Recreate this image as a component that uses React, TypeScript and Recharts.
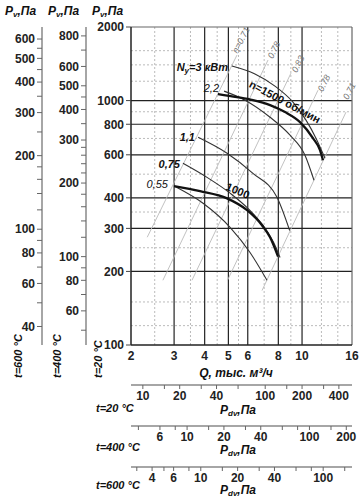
import {
  ComposedChart,
  Line,
  ReferenceDot,
  ReferenceLine,
  XAxis,
  YAxis,
} from "recharts";

const font = "Arial, 'Liberation Sans', sans-serif";

// Q, thousand m3/h
const flowTicks = [2, 3, 4, 5, 6, 8, 10, 16];
const flowGridMajor = [3, 4, 5, 6, 8, 10];
const flowGridMinor = [2.5, 3.5, 4.5, 5.5, 7, 9, 12, 14];

// Pv, Pa at 20 °C (main axis)
const pressureTicks = [100, 200, 300, 400, 600, 800, 1000, 2000];
const pressureGridMajor = [200, 300, 400, 600, 800, 1000];
const pressureGridMinor = [120, 150, 250, 350, 500, 700, 900, 1200, 1400, 1600];

// Pv at 400 °C and 600 °C
const p400Ticks = [50, 60, 70, 80, 90, 100, 120, 140, 160, 180, 200, 220, 240, 260, 280, 300, 350, 400, 450, 500, 600, 700, 800];
const p400Labels = [60, 80, 100, 200, 300, 400, 500, 600, 800];
const p600Ticks = [40, 50, 60, 70, 80, 90, 100, 120, 140, 160, 180, 200, 250, 300, 350, 400, 450, 500, 550, 600];
const p600Labels = [40, 60, 80, 100, 200, 300, 400, 500, 600];

// Pdv, Pa
const dyn20Ticks = [10, 15, 20, 30, 40, 60, 100, 150, 200, 300, 400];
const dyn20Labels = [10, 20, 40, 100, 200, 400];
const dyn400Ticks = [4, 6, 8, 10, 15, 20, 30, 40, 60, 80, 100, 150, 200];
const dyn400Labels = [6, 10, 20, 40, 100, 200];
const dyn600Ticks = [3, 4, 5, 6, 8, 10, 15, 20, 30, 40, 60, 80, 100, 150];
const dyn600Labels = [4, 6, 10, 20, 40, 100];

// curves, [Q, Pv]
const n1500 = [[4.53, 1063], [5.42, 1033], [6.3, 1004], [7.4, 958], [8.52, 897], [9.81, 816], [11.08, 702], [11.84, 627], [12.18, 570]];
const n1000 = [[3.0, 447], [3.83, 426], [4.94, 398], [5.96, 356], [6.86, 309], [7.4, 276], [7.98, 230]];
const power3 = [[5.17, 1384], [6.42, 1284], [7.75, 1146], [9.18, 986], [10.38, 832], [11.4, 702], [12.41, 581]];
const power22 = [[4.8, 1093], [5.85, 1004], [7.4, 855], [8.93, 722], [10.28, 598], [11.19, 472]];
const power11 = [[3.76, 708], [4.94, 609], [6.3, 504], [7.9, 402], [8.9, 294]];
const power075 = [[3.26, 554], [4.09, 485], [5.08, 418], [6.01, 362], [7.06, 300], [7.75, 256], [8.13, 228]];
const power055 = [[3.0, 447], [3.94, 380], [5.08, 303], [6.13, 239], [7.19, 184]];

// efficiency lines, ends only
const eta071a = [[2.33, 276], [5.42, 1535]];
const eta078a = [[2.7, 184], [7.26, 1465]];
const eta083 = [[3.55, 184], [9.01, 1295]];
const eta078b = [[4.96, 184], [11.62, 1103]];
const eta071b = [[6.86, 167], [15.12, 897]];

const toRows = (pts: number[][]) => pts.map(([q, p]) => ({ q, p }));

const thick = [n1500, n1000];
const thin = [power3, power22, power11, power075, power055];
const etaLines = [eta071a, eta078a, eta083, eta078b, eta071b];

const curveNotes = [
  { q: 4.98, p: 1371, text: "N", sub: "у", rest: "=3 кВт", bold: true, anchor: "end", rot: 0 },
  { q: 4.58, p: 1125, text: "2,2", bold: false, anchor: "end", rot: 0 },
  { q: 3.65, p: 708, text: "1,1", bold: true, anchor: "end", rot: 0 },
  { q: 3.17, p: 549, text: "0,75", bold: true, anchor: "end", rot: 0 },
  { q: 2.83, p: 455, text: "0,55", bold: false, anchor: "end", rot: 0 },
  { q: 8.52, p: 990, text: "n=1500 об/мин", bold: true, anchor: "middle", rot: 28, upright: true },
  { q: 5.47, p: 428, text: "1000", bold: true, anchor: "middle", rot: 23, upright: true },
];

const etaNotes = [
  { q: 5.63, p: 1769, text: "η=0.71" },
  { q: 7.68, p: 1610, text: "0.78" },
  { q: 9.63, p: 1411, text: "0.83" },
  { q: 12.29, p: 1179, text: "0.78" },
  { q: 15.6, p: 1093, text: "0.71" },
];

const tickStyle = { fill: "#222", fontSize: 12, fontWeight: 700, fontFamily: font };
const onlyIn = (list: number[]) => (v: number) => (list.includes(v) ? String(v) : "");

function NoteText({ viewBox, note }: any) {
  if (!viewBox) return null;
  const { x, y } = viewBox;
  return (
    <text
      x={x}
      y={y}
      dy={4}
      textAnchor={note.anchor}
      transform={note.rot ? `rotate(${note.rot} ${x} ${y})` : undefined}
      fontFamily={font}
      fontSize={11}
      fontWeight={note.bold ? 700 : 400}
      fontStyle={note.upright ? "normal" : "italic"}
      fill="#111"
    >
      {note.text}
      {note.sub && (
        <tspan fontSize={8} dy={2}>
          {note.sub}
        </tspan>
      )}
      {note.rest && <tspan dy={note.sub ? -2 : 0}>{note.rest}</tspan>}
    </text>
  );
}

function EtaText({ viewBox, text }: any) {
  if (!viewBox) return null;
  const { x, y } = viewBox;
  return (
    <text
      x={x}
      y={y}
      dy={3}
      textAnchor="middle"
      transform={`rotate(-63 ${x} ${y})`}
      fontFamily={font}
      fontSize={9}
      fontStyle="italic"
      fill="#777"
    >
      {text}
    </text>
  );
}

function DynAxis({ id, domain, ticks, labels, height }: any) {
  return (
    <XAxis
      xAxisId={id}
      type="number"
      scale="log"
      domain={domain}
      allowDataOverflow
      ticks={ticks}
      interval={0}
      height={height}
      tickSize={4}
      tickMargin={2}
      tickFormatter={onlyIn(labels)}
      axisLine={{ stroke: "#888", strokeWidth: 1.5 }}
      tickLine={{ stroke: "#666" }}
      tick={tickStyle}
    />
  );
}

export default function App() {
  return (
    <div style={{ position: "absolute", left: 0, top: 0, width: 364, height: 503, background: "#fff" }}>
      <ComposedChart width={364} height={503} margin={{ top: 27, right: 12, bottom: 118, left: 0 }}>
        <XAxis
          xAxisId="q"
          dataKey="q"
          type="number"
          scale="log"
          domain={[2, 16]}
          allowDataOverflow
          ticks={flowTicks}
          interval={0}
          height={40}
          tickLine={false}
          tickSize={0}
          tickMargin={6}
          axisLine={{ stroke: "#222", strokeWidth: 1.5 }}
          tick={tickStyle}
        />
        <YAxis
          yAxisId="p20"
          dataKey="p"
          type="number"
          scale="log"
          domain={[100, 2000]}
          allowDataOverflow
          ticks={pressureTicks}
          interval={0}
          width={45}
          tickSize={5}
          tickMargin={2}
          axisLine={{ stroke: "#222", strokeWidth: 1.5 }}
          tickLine={{ stroke: "#444" }}
          tick={tickStyle}
        />
        <YAxis
          yAxisId="p400"
          type="number"
          scale="log"
          domain={[43.5, 870]}
          allowDataOverflow
          ticks={p400Ticks}
          interval={0}
          width={44}
          tickSize={5}
          tickMargin={2}
          tickFormatter={onlyIn(p400Labels)}
          axisLine={{ stroke: "#888", strokeWidth: 1.5 }}
          tickLine={{ stroke: "#666" }}
          tick={tickStyle}
        />
        <YAxis
          yAxisId="p600"
          type="number"
          scale="log"
          domain={[33.6, 672]}
          allowDataOverflow
          ticks={p600Ticks}
          interval={0}
          width={42}
          tickSize={5}
          tickMargin={2}
          tickFormatter={onlyIn(p600Labels)}
          axisLine={{ stroke: "#888", strokeWidth: 1.5 }}
          tickLine={{ stroke: "#666" }}
          tick={tickStyle}
        />

        {flowGridMinor.map((q) => (
          <ReferenceLine key={"fm" + q} x={q} xAxisId="q" yAxisId="p20" stroke="#bbb" strokeDasharray="2 2" />
        ))}
        {pressureGridMinor.map((p) => (
          <ReferenceLine key={"pm" + p} y={p} xAxisId="q" yAxisId="p20" stroke="#bbb" strokeDasharray="2 2" />
        ))}
        {flowGridMajor.map((q) => (
          <ReferenceLine key={"fM" + q} x={q} xAxisId="q" yAxisId="p20" stroke="#222" strokeWidth={1.2} />
        ))}
        {pressureGridMajor.map((p) => (
          <ReferenceLine key={"pM" + p} y={p} xAxisId="q" yAxisId="p20" stroke="#222" strokeWidth={1.2} />
        ))}
        <ReferenceLine y={2000} xAxisId="q" yAxisId="p20" stroke="#666" strokeWidth={1.2} />
        <ReferenceLine x={16} xAxisId="q" yAxisId="p20" stroke="#666" strokeWidth={1.2} />

        {etaLines.map((pts, i) => (
          <Line
            key={"eta" + i}
            data={toRows(pts)}
            dataKey="p"
            xAxisId="q"
            yAxisId="p20"
            type="linear"
            stroke="#bbb"
            strokeWidth={0.9}
            dot={false}
            isAnimationActive={false}
          />
        ))}
        {thin.map((pts, i) => (
          <Line
            key={"n" + i}
            data={toRows(pts)}
            dataKey="p"
            xAxisId="q"
            yAxisId="p20"
            type="monotone"
            stroke="#333"
            strokeWidth={1.1}
            dot={false}
            isAnimationActive={false}
          />
        ))}
        {thick.map((pts, i) => (
          <Line
            key={"rpm" + i}
            data={toRows(pts)}
            dataKey="p"
            xAxisId="q"
            yAxisId="p20"
            type="monotone"
            stroke="#111"
            strokeWidth={2.3}
            dot={false}
            isAnimationActive={false}
          />
        ))}

        {etaNotes.map((n, i) => (
          <ReferenceDot
            key={"en" + i}
            x={n.q}
            y={n.p}
            r={0}
            xAxisId="q"
            yAxisId="p20"
            ifOverflow="visible"
            fill="none"
            stroke="none"
            label={(props: any) => <EtaText viewBox={props.viewBox} text={n.text} />}
          />
        ))}
        {curveNotes.map((n, i) => (
          <ReferenceDot
            key={"cn" + i}
            x={n.q}
            y={n.p}
            r={0}
            xAxisId="q"
            yAxisId="p20"
            ifOverflow="visible"
            fill="none"
            stroke="none"
            label={(props: any) => <NoteText viewBox={props.viewBox} note={n} />}
          />
        ))}
      </ComposedChart>

      {/* dynamic pressure scales under the plot */}
      <div style={{ position: "absolute", left: 0, top: 345 }}>
        <ComposedChart width={364} height={158} layout="vertical" margin={{ top: 0, right: 12, bottom: 0, left: 131 }}>
          <YAxis type="category" hide />
          {DynAxis({ id: "a20", domain: [8, 512], ticks: dyn20Ticks, labels: dyn20Labels, height: 41 })}
          {DynAxis({ id: "b400", domain: [3.48, 222.7], ticks: dyn400Ticks, labels: dyn400Labels, height: 41 })}
          {DynAxis({ id: "c600", domain: [2.69, 172], ticks: dyn600Ticks, labels: dyn600Labels, height: 36 })}
        </ComposedChart>
      </div>

      <svg
        width={364}
        height={503}
        style={{ position: "absolute", left: 0, top: 0, pointerEvents: "none" }}
        fontFamily={font}
        fill="#111"
      >
        {[5, 48, 92].map((x) => (
          <text key={"pv" + x} x={x} y={15} fontSize={12} fontWeight={700} fontStyle="italic">
            P<tspan fontSize={8} dy={2}>v</tspan>
            <tspan dy={-2}>,Па</tspan>
          </text>
        ))}
        {[
          { x: 22, t: "t=600 °C" },
          { x: 61, t: "t=400 °C" },
          { x: 102, t: "t=20 °C" },
        ].map((v) => (
          <text
            key={v.t}
            x={v.x}
            y={378}
            fontSize={11}
            fontWeight={700}
            fontStyle="italic"
            transform={`rotate(-90 ${v.x} 378)`}
          >
            {v.t}
          </text>
        ))}
        <text x={236} y={377} textAnchor="middle" fontSize={12} fontWeight={700} fontStyle="italic">
          Q, тыс. м³/ч
        </text>
        {[
          { y: 412, t: "t=20 °C", py: 414 },
          { y: 451, t: "t=400 °C", py: 454 },
          { y: 489, t: "t=600 °C", py: 494 },
        ].map((r) => (
          <g key={r.t + "row"}>
            <text x={96} y={r.y} fontSize={11} fontWeight={700} fontStyle="italic">
              {r.t}
            </text>
            <text x={238} y={r.py} textAnchor="middle" fontSize={12} fontWeight={700} fontStyle="italic">
              P<tspan fontSize={8} dy={2}>dv</tspan>
              <tspan dy={-2}>,Па</tspan>
            </text>
          </g>
        ))}
      </svg>
    </div>
  );
}
